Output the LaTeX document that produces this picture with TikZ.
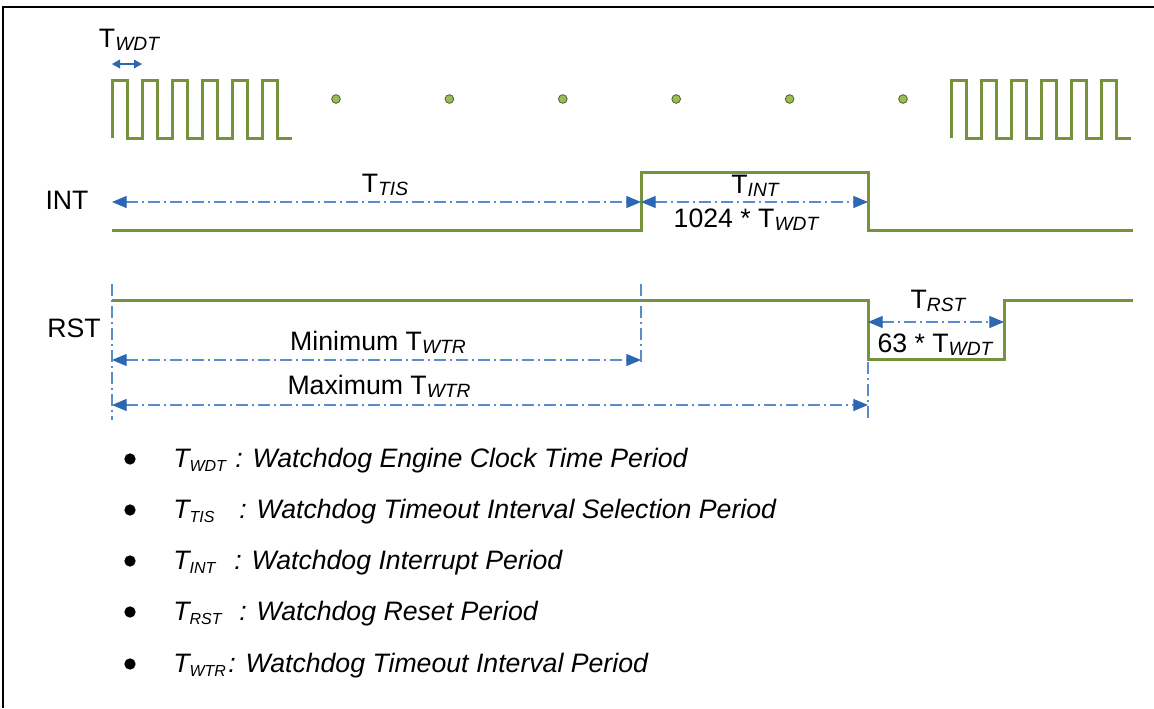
\documentclass[tikz,border=0pt]{standalone}
\usepackage{fontspec}
\setmainfont{Liberation Sans}
\usepackage{xcolor}
\usepackage{tikz}
\usetikzlibrary{arrows.meta}
\usetikzlibrary{calc}

\definecolor{wavegreen}{HTML}{76923C}
\definecolor{dotgreen}{HTML}{9BBB59}
\definecolor{dotedge}{HTML}{4F6228}
\definecolor{dimline}{HTML}{5B8BC9}
\definecolor{dimtip}{HTML}{2C67B1}

\newcommand{\Tsub}[1]{T\raisebox{-2.5pt}{\fontsize{14.4}{16}\selectfont\itshape #1}}
\newcommand{\Tleg}[1]{T\raisebox{-3pt}{\fontsize{12}{14}\selectfont\itshape #1}}

\begin{document}
\begin{tikzpicture}[x=0.75pt,y=-0.75pt]

		\tikzstyle{wave}   = [draw=wavegreen, line width=2.25pt, line join=miter]
		\tikzstyle{dimen}  = [draw=dimline, line width=0.9pt, dash pattern=on 9pt off 3pt on 1.5pt off 3pt, {Triangle[length=11pt,width=9pt,color=dimtip]}-{Triangle[length=11pt,width=9pt,color=dimtip]}]
		\tikzstyle{guide}  = [draw=dimline, line width=0.9pt, dash pattern=on 9pt off 3pt on 1.5pt off 3pt]
		\tikzstyle{tick}   = [draw=dimtip, line width=0.9pt, {Triangle[length=6pt,width=6.5pt]}-{Triangle[length=6pt,width=6.5pt]}]
		\tikzstyle{dot}    = [circle, draw=dotedge, fill=dotgreen, line width=0.6pt, inner sep=0pt, minimum size=6.5pt]
		\tikzstyle{bullet} = [circle, fill=black, inner sep=0pt, minimum size=8.5pt]
		\tikzstyle{lbl}    = [font=\fontsize{20}{24}\selectfont, anchor=base, inner sep=0pt]
		\tikzstyle{leg}    = [font=\fontsize{20}{24}\selectfont\itshape, anchor=base west, inner sep=0pt]

		\useasboundingbox (0,0) rectangle (1154,708);
		%%Frame
		\draw[line width=1.5pt] (3,708) -- (3,7) -- (1154,7);

		%%Clock
		\coordinate (clk1) at (112,138);
		\coordinate (clk2) at (951,138);
		\draw[wave] (clk1) foreach \p in {0,...,5} { -- ++(0,-58) -- ++(15,0) -- ++(0,58) -- ++(15,0) };
		\draw[wave] (clk2) foreach \p in {0,...,5} { -- ++(0,-58) -- ++(15,0) -- ++(0,58) -- ++(15,0) };
		\foreach \i in {0,...,5}
			\node[dot] (dot\i) at ({336+113.4*\i},99) {};
		\coordinate (wdt-l) at (112,64);
		\coordinate (wdt-r) at ($(wdt-l) + (30,0)$);
		\draw[tick] (wdt-l) -- (wdt-r);
		\node[lbl] (twdt) at (129,47) {\Tsub{WDT}};

		%%Signals
		\coordinate (int0) at (112,230);
		\coordinate (intup) at (641,230);
		\coordinate (intdn) at (868,230);
		\coordinate (int1) at (1133,230);
		\draw[wave] (int0) -- (intup) -- ++(0,-58) -| (intdn) -- (int1);
		\coordinate (rst0) at (112,300);
		\coordinate (rstdn) at (868,300);
		\coordinate (rstup) at (1004,300);
		\coordinate (rst1) at (1133,300);
		\draw[wave] (rst0) -- (rstdn) -- ++(0,59) -| (rstup) -- (rst1);
		\node[lbl] (int-lbl) at (67,209) {INT};
		\node[lbl] (rst-lbl) at (74,337) {RST};

		%%Periods
		\coordinate (tis-l) at (112,202);
		\coordinate (tis-r) at (641,202);
		\coordinate (int-r) at (868,202);
		\coordinate (rst-l) at (868,322);
		\coordinate (rst-r) at (1004,322);
		\coordinate (min-l) at (112,360);
		\coordinate (min-r) at (641,360);
		\coordinate (max-l) at (112,405);
		\coordinate (max-r) at (868,405);
		\draw[dimen] (tis-l) -- (tis-r);
		\draw[dimen] (tis-r) -- (int-r);
		\draw[dimen] (rst-l) -- (rst-r);
		\draw[dimen] (min-l) -- (min-r);
		\draw[dimen] (max-l) -- (max-r);
		\draw[guide] ($(min-l) + (0,-76)$) -- ($(max-l) + (0,15)$);
		\draw[guide] ($(min-r) + (0,-76)$) -- ($(min-r) + (0,2)$);
		\draw[guide] ($(max-r) + (0,-43)$) -- ($(max-r) + (0,15)$);
		\node[lbl] (ttis) at (385,192) {\Tsub{TIS}};
		\node[lbl] (tint) at (755,193) {\Tsub{INT}};
		\node[lbl] (tint-n) at (746,227) {1024 * \Tsub{WDT}};
		\node[lbl] (trst) at (938,308) {\Tsub{RST}};
		\node[lbl] (trst-n) at (935,352) {63 * \Tsub{WDT}};
		\node[lbl] (twtr-min) at (378,350) {Minimum \Tsub{WTR}};
		\node[lbl] (twtr-max) at (379,394) {Maximum \Tsub{WTR}};

		%%Legend
		\foreach \y/\s/\c/\t in {459/WDT/235/Watchdog Engine Clock Time Period,
				510/TIS/239/Watchdog Timeout Interval Selection Period,
				561/INT/234/Watchdog Interrupt Period,
				612/RST/239/Watchdog Reset Period,
				664/WTR/228/Watchdog Timeout Interval Period} {
			\node[bullet] (b\s) at (130,\y) {};
			\node[leg] (k\s) at (173,\y+8) {\Tleg{\s}};
			\node[leg] (d\s) at (\c,\y+8) {: \t};
		}
	\end{tikzpicture}
\end{document}
